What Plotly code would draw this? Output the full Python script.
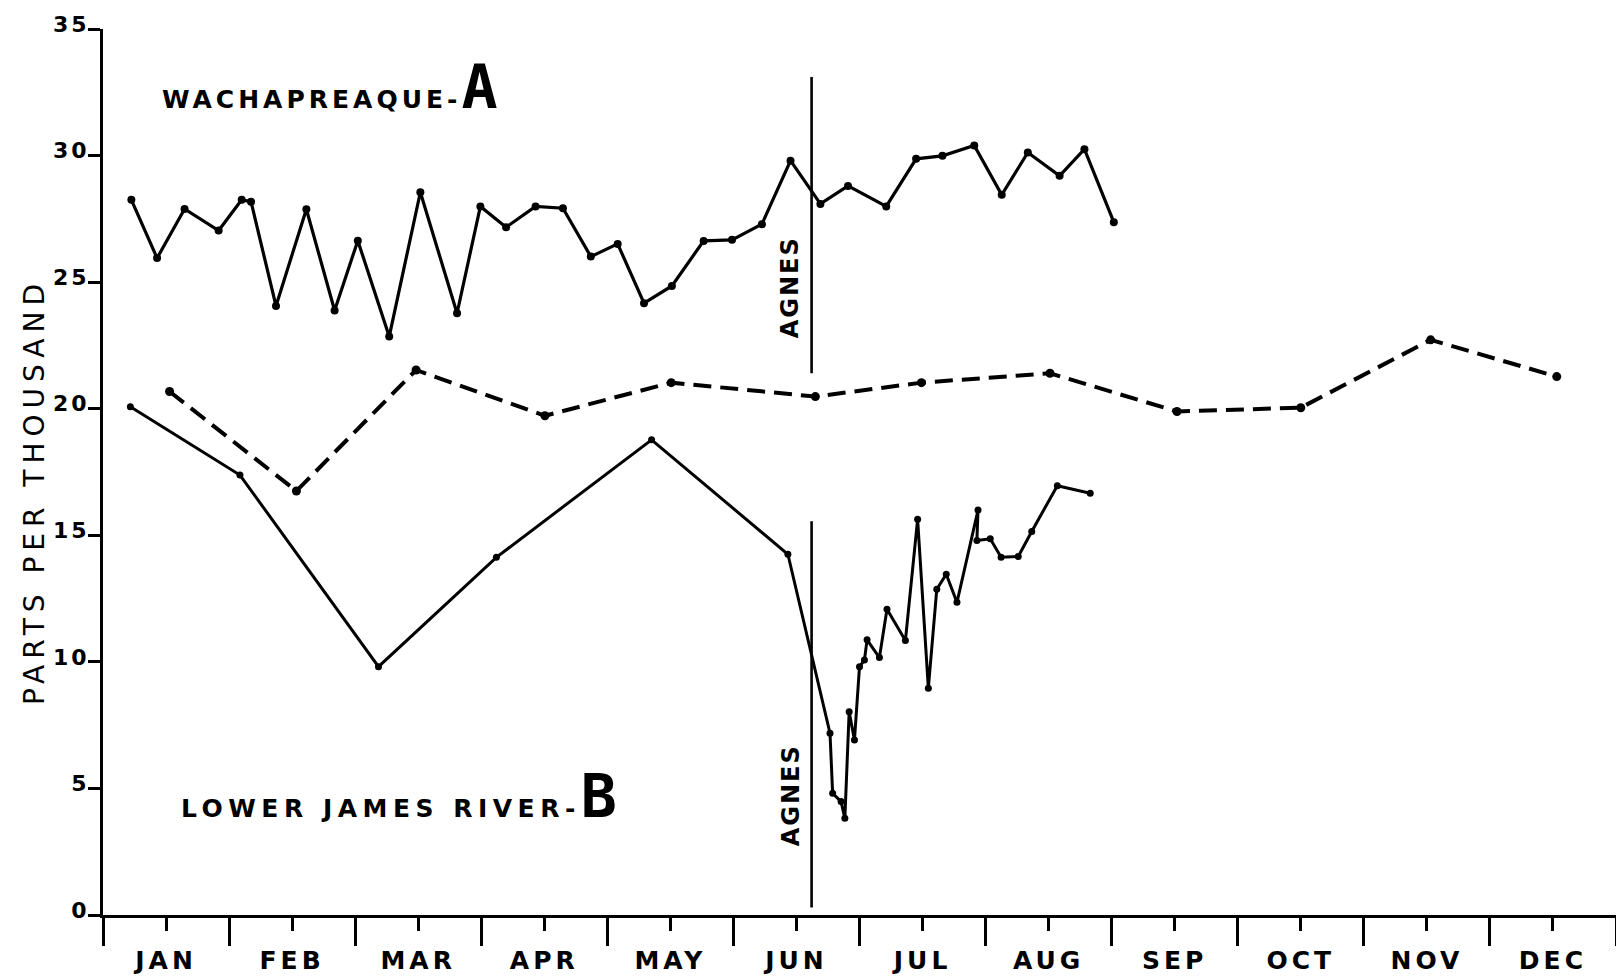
import plotly.graph_objects as go

# ---- data (x in months from Jan 1: 0 = start of JAN, 12 = end of DEC) ----
months = ["JAN", "FEB", "MAR", "APR", "MAY", "JUN", "JUL", "AUG", "SEP", "OCT", "NOV", "DEC"]
month_centers = [i + 0.5 for i in range(12)]
y_ticks = [0, 5, 10, 15, 20, 25, 30, 35]

# Wachapreaque (A) – solid line with dots
wach_x = [0.225, 0.429, 0.647, 0.917, 1.10, 1.174, 1.372, 1.613, 1.837, 2.021, 2.270, 2.517,
          2.808, 2.993, 3.197, 3.431, 3.648, 3.869, 4.082, 4.291, 4.512, 4.764, 4.989, 5.226,
          5.453, 5.69, 5.909, 6.212, 6.449, 6.658, 6.91, 7.128, 7.335, 7.587, 7.784, 8.017]
wach_y = [28.25, 25.95, 27.89, 27.04, 28.25, 28.18, 24.06, 27.88, 23.88, 26.64, 22.85, 28.55,
          23.77, 27.99, 27.17, 27.99, 27.92, 26.01, 26.51, 24.17, 24.85, 26.63, 26.67, 27.29,
          29.80, 28.09, 28.80, 27.99, 29.87, 29.99, 30.40, 28.45, 30.12, 29.20, 30.25, 27.37]

# dashed reference line
dash_x = [0.528, 1.534, 2.483, 3.505, 4.507, 5.650, 6.491, 7.511, 8.518, 9.50, 10.53, 11.53]
dash_y = [20.68, 16.75, 21.53, 19.72, 21.03, 20.48, 21.03, 21.40, 19.89, 20.04, 22.72, 21.27]

# Lower James River (B) – solid line
james_x = [0.217, 1.086, 2.185, 3.12, 4.351, 5.432, 5.766, 5.787, 5.854, 5.884, 5.918, 5.960,
           6.0, 6.039, 6.060, 6.158, 6.218, 6.364, 6.461, 6.546, 6.613, 6.688, 6.773, 6.94,
           6.931, 7.037, 7.123, 7.259, 7.366, 7.569, 7.83]
james_y = [20.08, 17.38, 9.81, 14.13, 18.77, 14.25, 7.18, 4.81, 4.48, 3.82, 8.03, 6.91,
           9.81, 10.07, 10.87, 10.17, 12.08, 10.84, 15.63, 8.96, 12.87, 13.46, 12.35, 16.0,
           14.79, 14.86, 14.13, 14.16, 15.15, 16.96, 16.66]

# Hurricane Agnes marker lines
agnes_x = 5.62
agnes_upper = [21.4, 33.1]
agnes_lower = [0.3, 15.55]

FONT = "DejaVu Sans"
BIG_STYLE = "font-family:'DejaVu Sans Mono';font-size:60px;font-weight:bold"

fig = go.Figure()

fig.add_trace(go.Scatter(x=wach_x, y=wach_y, mode="lines+markers",
                         line=dict(color="black", width=3.2),
                         marker=dict(color="black", size=8)))
fig.add_trace(go.Scatter(x=dash_x, y=dash_y, mode="lines+markers",
                         line=dict(color="black", width=4, dash="18px,9px"),
                         marker=dict(color="black", size=9)))
fig.add_trace(go.Scatter(x=james_x, y=james_y, mode="lines+markers",
                         line=dict(color="black", width=3.0),
                         marker=dict(color="black", size=7)))
fig.add_trace(go.Scatter(x=[agnes_x, agnes_x], y=agnes_upper, mode="lines",
                         line=dict(color="black", width=2.6)))
fig.add_trace(go.Scatter(x=[agnes_x, agnes_x], y=agnes_lower, mode="lines",
                         line=dict(color="black", width=2.6)))

annotations = [
    dict(text='<span style="letter-spacing:4px">WACHAPREAQUE-</span>'
              '<span style="' + BIG_STYLE + '">A</span>',
         x=0.455, y=31.25, xref="x", yref="y", xanchor="left", yanchor="bottom",
         showarrow=False, font=dict(family=FONT, size=25, color="black", weight="bold")),
    dict(text='<span style="letter-spacing:5.5px">LOWER JAMES RIVER-</span>'
              '<span style="' + BIG_STYLE + '">B</span>',
         x=0.6, y=3.25, xref="x", yref="y", xanchor="left", yanchor="bottom",
         showarrow=False, font=dict(family=FONT, size=25, color="black", weight="bold")),
    dict(text='<span style="letter-spacing:2px">AGNES</span>', x=5.455, y=24.79,
         xref="x", yref="y", xanchor="center", yanchor="middle", textangle=-90,
         showarrow=False, font=dict(family=FONT, size=24, color="black", weight="bold")),
    dict(text='<span style="letter-spacing:2px">AGNES</span>', x=5.455, y=4.72,
         xref="x", yref="y", xanchor="center", yanchor="middle", textangle=-90,
         showarrow=False, font=dict(family=FONT, size=24, color="black", weight="bold")),
    dict(text='<span style="letter-spacing:6px">PARTS PER THOUSAND</span>',
         x=-0.0456, y=0.4774, xref="paper", yref="paper", xanchor="center",
         yanchor="middle", textangle=-90,
         showarrow=False, font=dict(family=FONT, size=28, color="black")),
]

fig.update_layout(
    width=1616, height=976,
    margin=dict(l=103, r=0, t=29, b=61),
    paper_bgcolor="white", plot_bgcolor="white",
    showlegend=False,
    annotations=annotations,
    xaxis=dict(range=[0, 12], tickvals=month_centers,
               ticktext=['<span style="letter-spacing:4px">' + m + '</span>' for m in months],
               ticks="outside", ticklen=13, tickwidth=3, tickcolor="black",
               minor=dict(tick0=0, dtick=1, ticks="outside", ticklen=28,
                          tickwidth=3, tickcolor="black"),
               showline=True, linewidth=3, linecolor="black",
               showgrid=False, zeroline=False, ticklabelstandoff=8,
               tickfont=dict(family=FONT, size=25, color="black", weight="bold")),
    yaxis=dict(range=[0, 35], tickvals=y_ticks,
               ticktext=['<span style="letter-spacing:3px">' + str(v) + '</span>' for v in y_ticks],
               ticks="outside", ticklen=12, tickwidth=2.5, tickcolor="black",
               showline=True, linewidth=3, linecolor="black",
               showgrid=False, zeroline=False, ticklabelshift=-5,
               ticklabelstandoff=-6,
               tickfont=dict(family=FONT, size=22, color="black", weight="bold")),
)

fig.write_html("out.html")
